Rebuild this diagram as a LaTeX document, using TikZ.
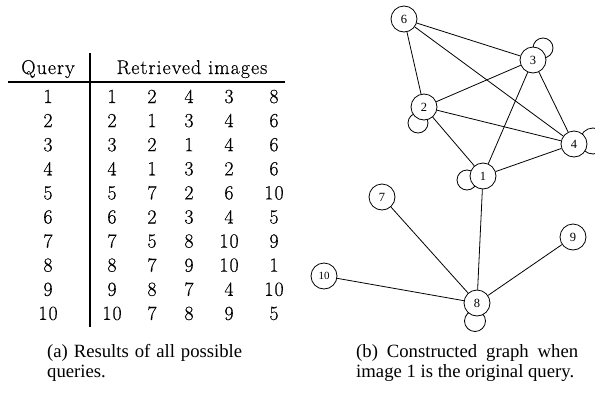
\documentclass[tikz,border=0pt]{standalone}
\usepackage{fontspec}
\setmainfont{Latin Modern Roman}
\newfontfamily\tabfont[LetterSpace=5,FakeBold=0.4]{Latin Modern Roman}
\newfontfamily\capfont{Liberation Serif}
\tikzset{
  gnode/.style={circle, draw, fill=white, line width=0.8pt, minimum size=26pt, inner sep=0pt, font=\capfont\fontsize{12.5}{12.5}\selectfont},
  gedge/.style={line width=0.8pt},
  selfloop/.style={line width=0.8pt},
  tcell/.style={inner sep=0pt, anchor=base, font=\tabfont\fontsize{20}{24}\selectfont},
  capbox/.style={inner sep=0pt, anchor=north west, align=justify, font=\capfont\fontsize{18.7}{20.5}\selectfont}
}
\begin{document}
\begin{tikzpicture}[x=1pt,y=-1pt]
\useasboundingbox (0,0) rectangle (595,394);
% ---------- table ----------
\node[tcell] (hq) at (48,74) {Query};
\node[tcell] (hr) at (192,74) {Retrieved images};
\coordinate (rl) at (8,82);
\coordinate (rr) at (285,82);
\draw[line width=1.1pt] (rl) -- (rr);
\coordinate (vt) at (90,53);
\coordinate (vb) at (90,327);
\draw[line width=1.3pt] (vt) -- (vb);
\foreach \q/\a/\b/\c/\d/\e [count=\i from 0] in {
 1/1/2/4/3/8, 2/2/1/3/4/6, 3/3/2/1/4/6, 4/4/1/3/2/6, 5/5/7/2/6/10,
 6/6/2/3/4/5, 7/7/5/8/10/9, 8/8/7/9/10/1, 9/9/8/7/4/10, 10/10/7/8/9/5}{
  \pgfmathsetmacro\yy{103+24.1*\i}
  \node[tcell] (q\i) at (48,\yy) {\q};
  \node[tcell] (ca\i) at (112,\yy) {\a};
  \node[tcell] (cb\i) at (152,\yy) {\b};
  \node[tcell] (cc\i) at (189,\yy) {\c};
  \node[tcell] (cd\i) at (229,\yy) {\d};
  \node[tcell] (ce\i) at (274,\yy) {\e};
}
% ---------- graph ----------
\coordinate (p6) at (404,19);
\coordinate (p3) at (533,60);
\coordinate (p2) at (424,107);
\coordinate (p4) at (574,144);
\coordinate (p1) at (483,176);
\coordinate (p7) at (382,197);
\coordinate (p9) at (573,237);
\coordinate (p10) at (324,276);
\coordinate (p8) at (477,303);
% self loops
\draw[selfloop] ([shift={(10,-12)}]p3) circle (10);
\draw[selfloop] ([shift={(-6,16)}]p2) circle (10);
\draw[selfloop] ([shift={(19,-3)}]p4) circle (13);
\draw[selfloop] ([shift={(-16,4)}]p1) circle (10);
\draw[selfloop] ([shift={(-2,18)}]p8) circle (10.5);
% nodes
\node[gnode] (n6) at (p6) {6};
\node[gnode] (n3) at (p3) {3};
\node[gnode] (n2) at (p2) {2};
\node[gnode] (n4) at (p4) {4};
\node[gnode] (n1) at (p1) {1};
\node[gnode] (n7) at (p7) {7};
\node[gnode] (n9) at (p9) {9};
\node[gnode, font=\capfont\fontsize{11}{11}\selectfont] (n10) at (p10) {10};
\node[gnode] (n8) at (p8) {8};
% edges
\draw[gedge] (n6) -- (n3);
\draw[gedge] (n6) -- (n2);
\draw[gedge] (n6) -- (n4);
\draw[gedge] (n3) -- (n2);
\draw[gedge] (n3) -- (n1);
\draw[gedge] (n3) -- (n4);
\draw[gedge] (n2) -- (n4);
\draw[gedge] (n2) -- (n1);
\draw[gedge] (n1) -- (n4);
\draw[gedge] (n1) -- (n8);
\draw[gedge] (n7) -- (n8);
\draw[gedge] (n9) -- (n8);
\draw[gedge] (n10) -- (n8);
% ---------- captions ----------
\node[capbox, text width=195pt] (capa) at (47,344) {(a) Results of all possible\linebreak queries.};
\node[capbox, text width=222pt] (capb) at (356,344) {(b) Constructed graph when\linebreak image 1 is the original query.};
\end{tikzpicture}
\end{document}
